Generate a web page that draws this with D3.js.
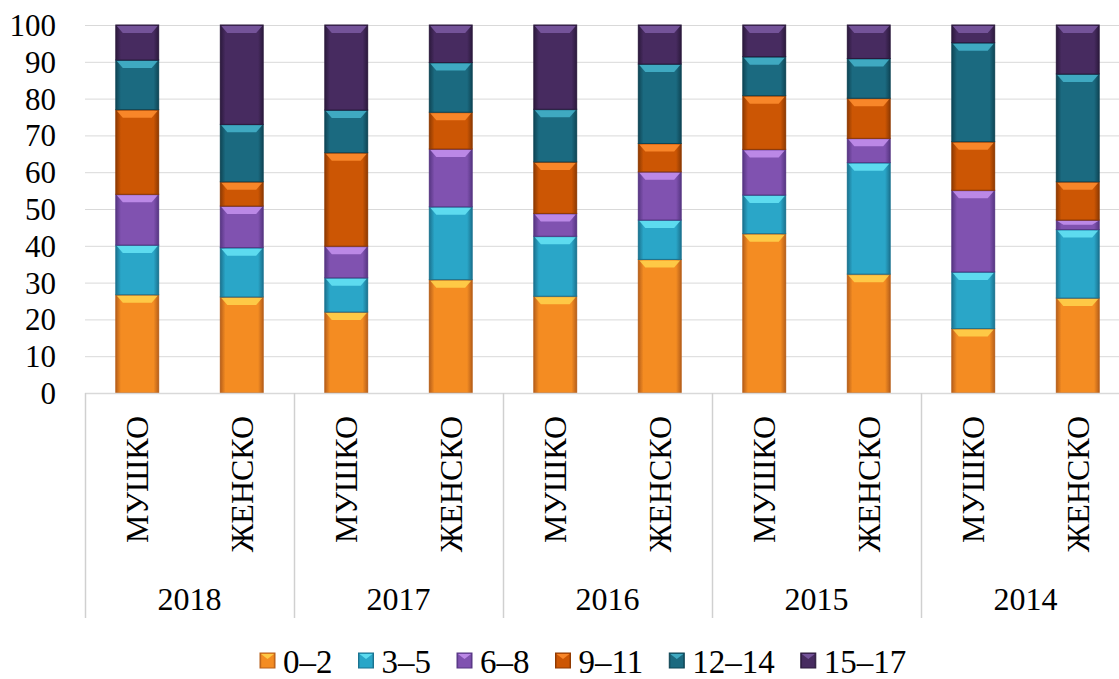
<!DOCTYPE html>
<html>
<head>
<meta charset="utf-8">
<script src="https://cdn.jsdelivr.net/npm/d3@7/dist/d3.min.js"></script>
<style>
html,body{margin:0;padding:0;background:#fff;overflow:hidden;}
svg text{font-family:"Liberation Serif","Times New Roman",serif !important;fill:#000;}
</style>
</head>
<body>
<svg id="chart" width="1119" height="679" font-family="Liberation Serif, serif"></svg>
<script>
const years = ["2018","2017","2016","2015","2014"];
const genders = ["МУШКО","ЖЕНСКО"];
const ageGroups = ["0–2","3–5","6–8","9–11","12–14","15–17"];
const yTicks = [0,10,20,30,40,50,60,70,80,90,100];

// values per bar, in order 2018 М, 2018 Ж, 2017 М, ... 2014 Ж
const age0_2   = [26.7,26.1,22.0,30.8,26.3,36.3,43.3,32.3,17.5,25.8];
const age3_5   = [13.5,13.4, 9.3,19.8,16.3,10.7,10.5,30.3,15.4,18.6];
const age6_8   = [13.8,11.3, 8.6,15.7, 6.2,13.1,12.4, 6.6,22.2, 2.6];
const age9_11  = [23.0, 6.6,25.4,10.0,14.0, 7.7,14.6,10.9,13.2,10.4];
const age12_14 = [13.5,15.6,11.6,13.5,14.3,21.6,10.6,10.8,26.9,29.3];
const age15_17 = [ 9.5,27.0,23.1,10.2,22.9,10.6, 8.6, 9.1, 4.8,13.3];

const seriesValues = [age0_2, age3_5, age6_8, age9_11, age12_14, age15_17];
const colors    = ["#f48c22","#2aa6c8","#8052b0","#cc5604","#1b6a80","#472b60"];
const darks     = ["#b8601a","#1b7390","#573683","#8f3a02","#0f4656","#2c1a3d"];
const lights    = ["#ffd44c","#66e4f6","#c592f0","#ff8e30","#45b4cc","#7c5aa3"];

const keys = [];
years.forEach(yr => genders.forEach(g => keys.push(yr + "|" + g)));
const rows = keys.map((k, i) => {
  const r = {key: k};
  ageGroups.forEach((a, s) => r[a] = seriesValues[s][i]);
  return r;
});
const stacked = d3.stack().keys(ageGroups)(rows);

const svg = d3.select("#chart");
const FONT = '"Liberation Serif","Times New Roman",serif';
const plotLeft = 85, plotRight = 1130, plotTop = 25, plotBottom = 393;

const x = d3.scaleBand().domain(keys).range([plotLeft, plotRight]).paddingInner(0.59).paddingOuter(0.295);
const xYear = d3.scaleBand().domain(years).range([plotLeft, plotRight]).padding(0);
const y = d3.scaleLinear().domain([0, 100]).range([plotBottom, plotTop]);

// gradients
const defs = svg.append("defs");
ageGroups.forEach((a, i) => {
  const g = defs.append("linearGradient").attr("id", "g" + i).attr("x1", "0").attr("x2", "1").attr("y1", "0").attr("y2", "0");
  g.append("stop").attr("offset", "0").attr("stop-color", darks[i]);
  g.append("stop").attr("offset", "0.12").attr("stop-color", colors[i]);
  g.append("stop").attr("offset", "0.88").attr("stop-color", colors[i]);
  g.append("stop").attr("offset", "1").attr("stop-color", darks[i]);
});

// gridlines
svg.append("g").selectAll("line").data(yTicks.filter(t => t > 0)).join("line")
  .attr("x1", plotLeft).attr("x2", 1119)
  .attr("y1", d => y(d) + 0.5).attr("y2", d => y(d) + 0.5)
  .attr("stroke", "#d9d9d9").attr("stroke-width", 1);

// y axis labels
const yAxis = d3.axisLeft(y).tickValues(yTicks).tickSize(0).tickPadding(0);
const ya = svg.append("g").attr("transform", `translate(56,0)`).call(yAxis);
ya.attr("font-family", null).attr("font-size", null);
ya.select(".domain").remove();
ya.selectAll("text").style("font-size", "31px").style("font-family", FONT).attr("dy", "0.34em").attr("fill", "#000");

// bars
const layer = svg.append("g").selectAll("g").data(stacked).join("g");
layer.each(function(s, si) {
  const g = d3.select(this);
  s.forEach((d, i) => {
    const x0 = x(keys[i]), w = x.bandwidth();
    const yt = y(d[1]), yb = y(d[0]);
    const h = yb - yt;
    g.append("rect").attr("x", x0).attr("y", yt).attr("width", w).attr("height", h)
      .attr("fill", `url(#g${si})`).attr("stroke", darks[si]).attr("stroke-width", 1);
    const bh = Math.min(8, h / 2);
    g.append("polygon")
      .attr("points", `${x0+1},${yt+1} ${x0+w-1},${yt+1} ${x0+w-7},${yt+bh} ${x0+7},${yt+bh}`)
      .attr("fill", lights[si]).attr("opacity", 0.85);
  });
});

// category axis
svg.append("line").attr("x1", plotLeft).attr("x2", 1119).attr("y1", plotBottom + 0.5).attr("y2", plotBottom + 0.5)
  .attr("stroke", "#d9d9d9").attr("stroke-width", 1.5);
const dividers = years.map(yr => xYear(yr));
svg.append("g").selectAll("line").data(dividers).join("line")
  .attr("x1", d => d + 0.5).attr("x2", d => d + 0.5)
  .attr("y1", plotBottom).attr("y2", 618)
  .attr("stroke", "#d0d0d0").attr("stroke-width", 1.5);

// gender labels (rotated)
svg.append("g").selectAll("text").data(keys).join("text")
  .attr("transform", d => `translate(${x(d) + x.bandwidth()/2 + 11},416) rotate(-90)`)
  .attr("text-anchor", "end")
  .style("font-family", FONT)
  .style("font-size", "32px")
  .text(d => d.split("|")[1]);

// year labels
svg.append("g").selectAll("text").data(years).join("text")
  .attr("x", d => xYear(d) + xYear.bandwidth()/2)
  .attr("y", 610)
  .attr("text-anchor", "middle")
  .style("font-family", FONT)
  .style("font-size", "32px")
  .text(d => d);

// legend
const leg = svg.append("g");
let lx = 260;
ageGroups.forEach((a, i) => {
  leg.append("rect").attr("x", lx).attr("y", 653).attr("width", 15).attr("height", 15)
    .attr("fill", `url(#g${i})`).attr("stroke", darks[i]).attr("stroke-width", 1);
  leg.append("polygon").attr("points", `${lx+1},654 ${lx+14},654 ${lx+7.5},659`).attr("fill", lights[i]).attr("opacity", 0.85);
  const t = leg.append("text").attr("x", lx + 23).attr("y", 673)
    .style("font-family", FONT).style("font-size", "33px").text(a);
  lx += 23 + t.node().getComputedTextLength() + 26;
});
</script>
</body>
</html>
